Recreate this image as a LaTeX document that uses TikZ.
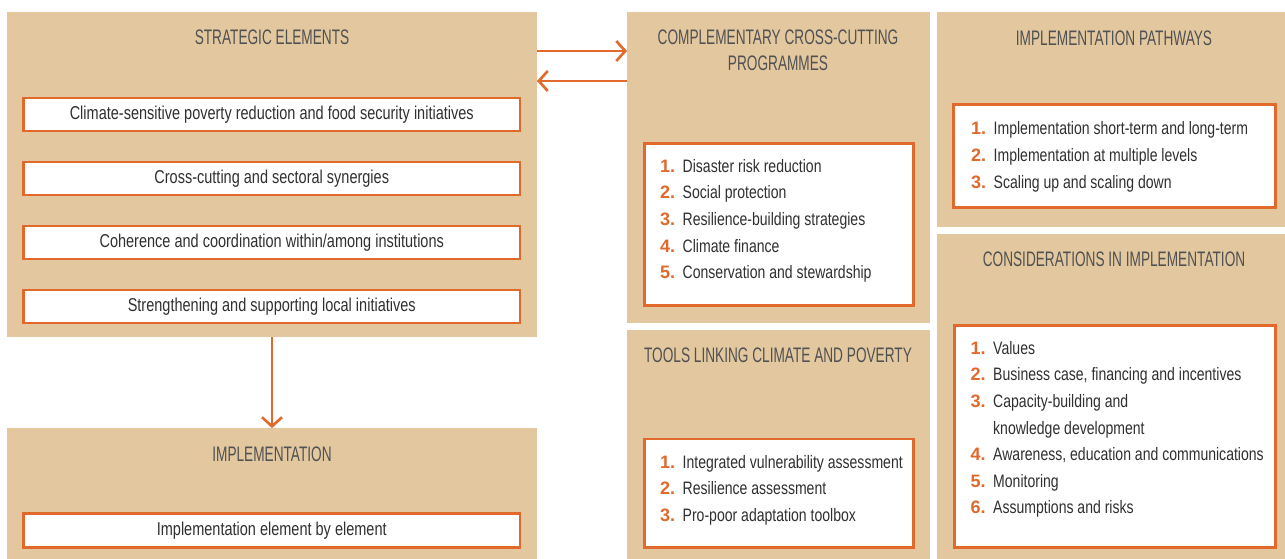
\documentclass[tikz,border=0pt]{standalone}
\usepackage{fontspec}
\setmainfont{Liberation Sans}[FakeStretch=0.78]
\newfontfamily\titlefont{Liberation Sans}[FakeStretch=0.65]
\newfontfamily\numfont{Liberation Sans}
\usetikzlibrary{arrows.meta,positioning}
\definecolor{sand}{HTML}{E3C79E}
\definecolor{hot}{HTML}{E0692B}
\definecolor{ink}{HTML}{303030}
\definecolor{greyhead}{HTML}{505153}
\newcommand\nb[1]{\makebox[22.5pt][l]{\numfont\bfseries\color{hot}#1.}}
\tikzset{
  panel/.style={fill=sand, anchor=north west, inner sep=0pt, outer sep=0pt},
  itembox/.style={draw=hot, line width=2.6pt, fill=white, anchor=north west,
    inner sep=0pt, outer sep=0pt, text=ink, font=\fontsize{18.6}{22}\selectfont},
  head/.style={text=greyhead, font=\titlefont\fontsize{21}{25.7}\selectfont,
    align=center, inner sep=0pt, anchor=north},
  itemlist/.style={text=ink, font=\fontsize{18}{26.6}\selectfont, inner sep=0pt,
    anchor=base west},
  link/.style={draw=hot, line width=2.6pt, -{Straight Barb[length=9pt,width=20pt]}},
}
\begin{document}
\begin{tikzpicture}[x=1pt,y=-1pt]
  \useasboundingbox[fill=white] (0,0) rectangle (1285,559);
  % panels
  \node[panel, minimum width=530pt, minimum height=325pt] (strat) at (7,12) {};
  \node[panel, minimum width=530pt, minimum height=131pt] (impl) at (7,428) {};
  \node[panel, minimum width=303pt, minimum height=311pt] (prog) at (627,12) {};
  \node[panel, minimum width=303pt, minimum height=229pt] (tools) at (627,330) {};
  \node[panel, minimum width=348pt, minimum height=215pt] (paths) at (937,12) {};
  \node[panel, minimum width=348pt, minimum height=325pt] (cons) at (937,234) {};
  % headings
  \node[head] (strathead) at (272,30) {STRATEGIC ELEMENTS};
  \node[head] (implhead) at (272,446.5) {IMPLEMENTATION};
  \node[head] (proghead) at (778,30) {COMPLEMENTARY CROSS-CUTTING\\PROGRAMMES};
  \node[head] (toolshead) at (778,347.5) {TOOLS LINKING CLIMATE AND POVERTY};
  \node[head] (pathshead) at (1114,30.5) {IMPLEMENTATION PATHWAYS};
  \node[head] (conshead) at (1114,251.5) {CONSIDERATIONS IN IMPLEMENTATION};
  % strategic elements
  \node[itembox, minimum width=496.5pt, minimum height=33pt] (elemA) at (23.5,98)
    {Climate-sensitive poverty reduction and food security initiatives};
  \node[itembox, minimum width=496.5pt, minimum height=33pt] (elemB) at (23.5,162)
    {Cross-cutting and sectoral synergies};
  \node[itembox, minimum width=496.5pt, minimum height=33pt] (elemC) at (23.5,226)
    {Coherence and coordination within/among institutions};
  \node[itembox, minimum width=496.5pt, minimum height=33pt] (elemD) at (23.5,290)
    {Strengthening and supporting local initiatives};
  \node[itembox, minimum width=496.5pt, minimum height=34pt] (elemE) at (23.5,513.5)
    {Implementation element by element};
  % list boxes
  \node[itembox, minimum width=269.4pt, minimum height=162.4pt] (progbox) at (644.3,143.3) {};
  \node[itembox, minimum width=269.4pt, minimum height=108.5pt] (toolsbox) at (644.3,439) {};
  \node[itembox, minimum width=322pt, minimum height=102.8pt] (pathsbox) at (953.6,104.6) {};
  \node[itembox, minimum width=321.4pt, minimum height=222.4pt] (consbox) at (954.3,325.3) {};
  \node[itemlist] (proglist) at (660,172.3) {\begin{tabular}[t]{@{}l@{}}
    \nb1Disaster risk reduction\\
    \nb2Social protection\\
    \nb3Resilience-building strategies\\
    \nb4Climate finance\\
    \nb5Conservation and stewardship
  \end{tabular}};
  \node[itemlist] (toolslist) at (660,468) {\begin{tabular}[t]{@{}l@{}}
    \nb1Integrated vulnerability assessment\\
    \nb2Resilience assessment\\
    \nb3Pro-poor adaptation toolbox
  \end{tabular}};
  \node[itemlist] (pathslist) at (971,135) {\begin{tabular}[t]{@{}l@{}}
    \nb1Implementation short-term and long-term\\
    \nb2Implementation at multiple levels\\
    \nb3Scaling up and scaling down
  \end{tabular}};
  \node[itemlist] (conslist) at (970.5,354.3) {\begin{tabular}[t]{@{}l@{}}
    \nb1Values\\
    \nb2Business case, financing and incentives\\
    \nb3Capacity-building and\\
    \hspace*{22.5pt}knowledge development\\
    \nb4Awareness, education and communications\\
    \nb5Monitoring\\
    \nb6Assumptions and risks
  \end{tabular}};
  % arrows
  \draw[link] ([yshift=-39pt]strat.north east) -- ([yshift=-39pt]prog.north west);
  \draw[link] ([yshift=-69pt]prog.north west) -- ([yshift=-69pt]strat.north east);
  \draw[link] (strat.south) -- (impl.north);
\end{tikzpicture}
\end{document}
